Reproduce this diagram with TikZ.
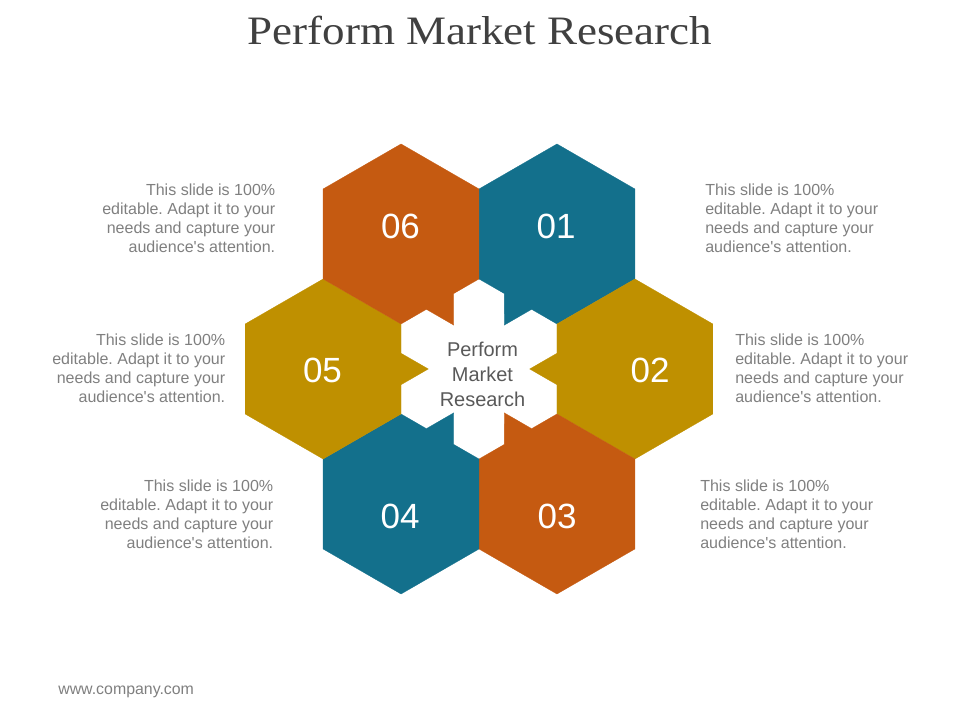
\documentclass[tikz,border=0pt]{standalone}
\usepackage{fontspec}
\setmainfont{Liberation Sans}
\newfontfamily\titlefont[FakeStretch=1.115]{Liberation Serif}
\definecolor{hexorange}{HTML}{C55A11}
\definecolor{hexblue}{HTML}{13708C}
\definecolor{hexgold}{HTML}{BF9000}
\definecolor{notegray}{HTML}{7F7F7F}
\definecolor{midgray}{HTML}{595959}
\definecolor{titlegray}{HTML}{404040}
\frenchspacing
\newcommand{\slidenote}{This slide is 100\% \\ editable. Adapt it to your \\ needs and capture your \\ audience\textquotesingle s attention.}
\begin{document}
\begin{tikzpicture}[x=0.025cm,y=0.025cm,
		hexnum/.style={text=white,inner sep=0pt,font=\fontsize{24.9}{28}\selectfont},
		note/.style={text=notegray,inner sep=0pt,font=\fontsize{11.4}{13.5}\selectfont}]
	\useasboundingbox (0,0) rectangle (960,720);
	\node[anchor=base,inner sep=0pt,text=titlegray,font=\titlefont\fontsize{28.7}{32}\selectfont] (title) at (480,675.5) {Perform Market Research};
	\begin{scope}[shift={(479,351)}]
		\foreach \ang/\col in {60/hexblue,0/hexgold,-60/hexorange,-120/hexblue,180/hexgold,120/hexorange}
		{
			\filldraw[fill=\col,draw=\col,line width=0.2pt,shift={(\ang:155.9)}] (\ang+150:90) -- (\ang+168.58:79.5) -- (\ang+180:105.2)
			-- (\ang+191.42:79.5) -- (\ang+210:90) -- (\ang+270:90) -- (\ang+330:90) -- (\ang+30:90) -- (\ang+90:90) -- cycle;
		}
	\end{scope}
	\node[hexnum] (n01) at (556,494) {01};
	\node[hexnum] (n02) at (650,350) {02};
	\node[hexnum] (n03) at (557,204) {03};
	\node[hexnum] (n04) at (400,204) {04};
	\node[hexnum] (n05) at (322.5,350) {05};
	\node[hexnum] (n06) at (400.5,494) {06};
	\node[anchor=north,align=center,inner sep=0pt,text=midgray,font=\fontsize{14.2}{17.8}\selectfont] (centre) at (482.5,378.3) {Perform\\ Market\\ Research};
	\node[note,anchor=north west,align=left] (t1) at (705,536.7) {\slidenote};
	\node[note,anchor=north west,align=left] (t2) at (735,386.7) {\slidenote};
	\node[note,anchor=north west,align=left] (t3) at (700,240) {\slidenote};
	\node[note,anchor=north east,align=right] (t4) at (273.5,240) {\slidenote};
	\node[note,anchor=north east,align=right] (t5) at (225.5,386.7) {\slidenote};
	\node[note,anchor=north east,align=right] (t6) at (275.5,536.7) {\slidenote};
	\node[anchor=base west,inner sep=0pt,text=notegray,font=\fontsize{11.3}{13}\selectfont] (web) at (58,25) {www.company.com};
\end{tikzpicture}
\end{document}
